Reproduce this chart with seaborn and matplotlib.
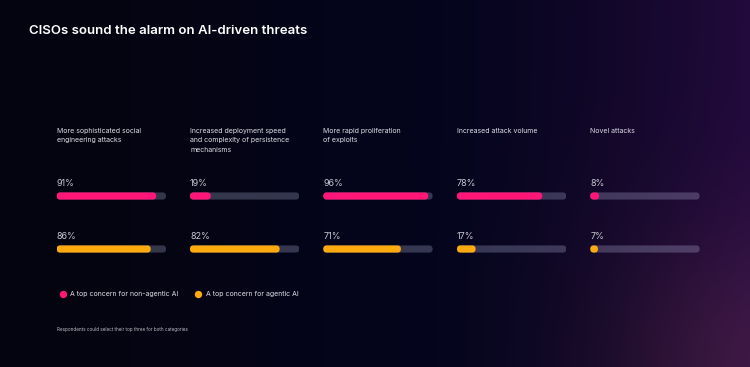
import numpy as np
import pandas as pd
import matplotlib
matplotlib.use("Agg")
import matplotlib.pyplot as plt
from matplotlib.patches import FancyBboxPatch
from matplotlib.lines import Line2D
import seaborn as sns

categories = [
    "More sophisticated social\nengineering attacks",
    "Increased deployment speed\nand complexity of persistence\nmechanisms",
    "More rapid proliferation\nof exploits",
    "Increased attack volume",
    "Novel attacks",
]
non_agentic = [91, 19, 96, 78, 8]
agentic = [86, 82, 71, 17, 7]
series_labels = ["A top concern for non-agentic AI", "A top concern for agentic AI"]

PINK = "#ff1677"
ORANGE = "#ffab0f"
TRACK = (0.82, 0.84, 1.0, 0.24)
W, H = 750, 367

sns.set_theme(style="white")
plt.rcParams["font.family"] = ["Inter", "DejaVu Sans"]

fig = plt.figure(figsize=(7.5, 3.67), dpi=100)

# background gradient
bg = fig.add_axes([0, 0, 1, 1], zorder=0)
xx, yy = np.meshgrid(np.linspace(0, 1, 300), np.linspace(0, 1, 150))
base = np.array([4, 4, 16]) / 255
mid = np.exp(-((xx - 0.55) ** 2 / 0.08))
ramp = np.clip((xx - 0.55) / 0.45, 0, 1) ** 1.4
glow = np.exp(-((xx - 1.0) ** 2 / 0.04 + (yy - 1.0) ** 2 / 0.15))
img = (base[None, None, :]
       + mid[..., None] * np.array([0, 1, 12]) / 255
       + ramp[..., None] * np.array([30, 6, 44]) / 255
       + glow[..., None] * np.array([28, 14, 8]) / 255)
bg.imshow(np.clip(img, 0, 1), extent=[0, 1, 1, 0], aspect="auto")
bg.set_xlim(0, 1); bg.set_ylim(1, 0)
bg.axis("off")

fig.text(29 / W, 1 - 31 / H, "CISOs sound the alarm on AI-driven threats",
         color="white", fontsize=9.5, fontweight="semibold", va="center")


def px_ax(x0, y0, x1, y1):
    return fig.add_axes([x0 / W, 1 - y1 / H, (x1 - x0) / W, (y1 - y0) / H], zorder=2)


starts = [56.7, 190.0, 323.3, 457.0, 590.3]
bar_w = 109.3
y_pink, y_orange = 196.0, 249.0
unit = y_orange - y_pink

for i, cat in enumerate(categories):
    x0 = starts[i]
    ax = px_ax(x0, y_pink - unit / 2, x0 + bar_w, y_orange + unit / 2)
    ax.patch.set_alpha(0)
    df = pd.DataFrame({"series": series_labels,
                       "value": [non_agentic[i], agentic[i]],
                       "track": [100, 100]})
    sns.barplot(data=df, x="track", y="series", color="white", saturation=1,
                width=0.135, ax=ax)
    n_track = len(ax.patches)
    sns.barplot(data=df, x="value", y="series", hue="series", saturation=1,
                palette=[PINK, ORANGE], width=0.135, legend=False, ax=ax)
    ax.set_xlim(0, 100)
    ax.set_ylim(1.5, -0.5)
    # round the bar ends
    xpp = 100 / bar_w
    ypp = 1 / unit
    for k, p in enumerate(list(ax.patches)):
        bx, by, bw, bh = p.get_x(), p.get_y(), p.get_width(), p.get_height()
        fc = TRACK if k < n_track else p.get_facecolor()
        p.remove()
        ax.add_patch(FancyBboxPatch((bx, by), bw, bh,
                                    boxstyle=f"round,pad=0,rounding_size={3.5 * xpp}",
                                    mutation_aspect=ypp / xpp,
                                    facecolor=fc, edgecolor="none"))
    for j, v in enumerate([non_agentic[i], agentic[i]]):
        ax.text(0, j - 13 / unit, f"{v}%", color="#c9c9d2", fontsize=6.5,
                va="center", ha="left")
    ax.axis("off")
    fig.text(x0 / W, 1 - 128 / H, cat, color="#dcdce4", fontsize=5,
             va="top", ha="left", linespacing=1.65)

handles = [Line2D([], [], marker="o", linestyle="none", markersize=5.3,
                  markerfacecolor=c, markeredgecolor="none") for c in (PINK, ORANGE)]
leg = fig.legend(handles, series_labels, loc="center left",
                 bbox_to_anchor=(53 / W, 1 - 294 / H), ncol=2, frameon=False,
                 fontsize=5, handletextpad=0.6, columnspacing=2.3, handlelength=1.0)
for t in leg.get_texts():
    t.set_color("#dcdce4")

fig.text(57 / W, 1 - 329 / H, "Respondents could select their top three for both categories",
         color="#c0c0c8", fontsize=3.3, va="center")

fig.savefig("out.png", dpi=100, facecolor="#04040e")
